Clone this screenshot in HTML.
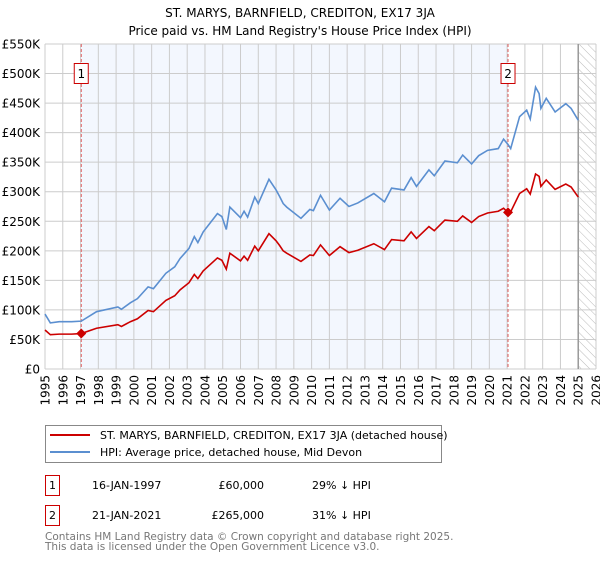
<!DOCTYPE html>
<html><head><meta charset="utf-8"><style>
body{margin:0;background:#fff;}
svg{font-family:"DejaVu Sans","Liberation Sans",sans-serif;}
</style></head><body>
<svg id="chart" width="600" height="560" viewBox="0 0 600 560" xmlns="http://www.w3.org/2000/svg">
<defs><pattern id="hatch" width="6" height="6" patternUnits="userSpaceOnUse" patternTransform="rotate(-45)"><line x1="0" y1="0" x2="0" y2="6" stroke="#bbb" stroke-width="1"/></pattern></defs>
<text x="300" y="17" text-anchor="middle" font-size="12">ST. MARYS, BARNFIELD, CREDITON, EX17 3JA</text>
<text x="300" y="35" text-anchor="middle" font-size="12">Price paid vs. HM Land Registry's House Price Index (HPI)</text>
<g id="plot"></g>
<g>
<rect x="45.5" y="425.5" width="396" height="37" fill="#fff" stroke="#888"/>
<line x1="50" y1="435" x2="90" y2="435" stroke="#cc0000" stroke-width="2"/>
<text x="100" y="439" font-size="11">ST. MARYS, BARNFIELD, CREDITON, EX17 3JA (detached house)</text>
<line x1="50" y1="452" x2="90" y2="452" stroke="#5b8fd0" stroke-width="2"/>
<text x="100" y="456" font-size="11">HPI: Average price, detached house, Mid Devon</text>
</g>
<g font-size="11">
<rect x="45.5" y="475.5" width="14" height="20" fill="#fff" stroke="#cc0000"/>
<text x="52.5" y="489" text-anchor="middle">1</text>
<text x="92" y="489">16-JAN-1997</text>
<text x="264" y="489" text-anchor="end">£60,000</text>
<text x="312" y="489">29% ↓ HPI</text>
<rect x="45.5" y="505.5" width="14" height="20" fill="#fff" stroke="#cc0000"/>
<text x="52.5" y="519" text-anchor="middle">2</text>
<text x="92" y="519">21-JAN-2021</text>
<text x="264" y="519" text-anchor="end">£265,000</text>
<text x="312" y="519">31% ↓ HPI</text>
</g>
<text x="45" y="170" font-size="10.5" fill="#777" transform="translate(0,370)">Contains HM Land Registry data © Crown copyright and database right 2025.</text>
<text x="45" y="180" font-size="10.5" fill="#777" transform="translate(0,370)">This data is licensed under the Open Government Licence v3.0.</text>
</svg>
<script>
const hpiYears=[1995.0,1995.3,1995.8,1996.5,1997.04,1997.9,1999.1,1999.3,1999.8,2000.2,2000.8,2001.1,2001.8,2002.3,2002.6,2003.1,2003.4,2003.6,2003.9,2004.7,2004.95,2005.2,2005.4,2006.0,2006.2,2006.4,2006.8,2007.0,2007.6,2008.0,2008.2,2008.4,2008.6,2009.4,2009.9,2010.1,2010.5,2011.0,2011.6,2012.1,2012.6,2013.5,2014.1,2014.5,2015.2,2015.6,2015.9,2016.6,2016.9,2017.5,2018.2,2018.5,2019.0,2019.4,2019.9,2020.5,2020.8,2021.05,2021.2,2021.7,2022.1,2022.3,2022.6,2022.8,2022.9,2023.2,2023.7,2024.3,2024.6,2025.0];
const hpiValues=[93,78,80,80,81,97,105,101,112,119,139,136,162,173,187,204,224,214,232,263,258,236,274,256,267,257,291,280,321,303,292,280,274,255,270,268,294,269,289,275,281,297,283,306,303,324,309,337,327,352,349,362,347,361,370,373,389,380,373,427,438,423,477,466,441,458,435,449,441,421];
const priceValues=[66,58,59,59,60,69,75,72,80,85,99,97,116,124,134,146,160,153,166,188,184,169,196,183,191,184,208,200,229,217,209,200,196,182,193,192,210,192,207,197,201,212,202,219,217,232,221,241,234,252,250,259,248,258,264,267,272,265,266,297,305,296,330,326,309,320,304,313,308,291];
const saleYears=[1997.04,2021.05];
const saleValues=[60,265];
const saleLabels=["1","2"];
const yTicks=[0,50,100,150,200,250,300,350,400,450,500,550];
const yTickLabels=["£0","£50K","£100K","£150K","£200K","£250K","£300K","£350K","£400K","£450K","£500K","£550K"];
const xYears=[1995,1996,1997,1998,1999,2000,2001,2002,2003,2004,2005,2006,2007,2008,2009,2010,2011,2012,2013,2014,2015,2016,2017,2018,2019,2020,2021,2022,2023,2024,2025,2026];

const NS="http://www.w3.org/2000/svg";
const X0=45,X1=596,Y0=369,Y1=44;
const xs=y=>X0+(y-1995)/(2026-1995)*(X1-X0);
const ys=v=>Y0-v/550*(Y0-Y1);
const g=document.getElementById('plot');
function mk(t,a){const e=document.createElementNS(NS,t);for(const k in a)e.setAttribute(k,a[k]);g.appendChild(e);return e;}

let r=mk('rect',{x:xs(saleYears[0]),y:Y1,width:xs(saleYears[1])-xs(saleYears[0]),height:Y0-Y1,fill:'#f3f7fe'});


let h=mk('rect',{x:xs(2025),y:Y1,width:X1-xs(2025),height:Y0-Y1,fill:'url(#hatch)'});



xYears.forEach(yr=>{
 const l=mk('line',{x1:xs(yr),x2:xs(yr),y1:Y1,y2:Y0,stroke:'#ccc','stroke-width':1});
 
 
 const t=mk('text',{x:0,y:0,'font-size':12,'text-anchor':'end',transform:`translate(${xs(yr)+4.5},${Y0+6}) rotate(-90)`});
 t.textContent=yr;
 
 
});
yTicks.forEach((v,i)=>{
 const l=mk('line',{x1:X0,x2:X1,y1:ys(v),y2:ys(v),stroke:'#ccc','stroke-width':1});
 
 
 const t=mk('text',{x:40,y:ys(v)+4.5,'font-size':12,'text-anchor':'end'});
 t.textContent=yTickLabels[i];
 
 
});
let e=mk('line',{x1:xs(2025),x2:xs(2025),y1:Y1,y2:Y0,stroke:'#999','stroke-width':1.5});



saleYears.forEach((yr,i)=>{
 const d=mk('line',{x1:xs(yr),x2:xs(yr),y1:Y1,y2:Y0,stroke:'#e06060','stroke-width':1,'stroke-dasharray':'3,2'});
 
 
});

const hp=mk('polyline',{points:hpiYears.map((y,i)=>xs(y)+','+ys(hpiValues[i])).join(' '),fill:'none',stroke:'#5b8fd0','stroke-width':1.6});


const pp=mk('polyline',{points:hpiYears.map((y,i)=>xs(y)+','+ys(priceValues[i])).join(' '),fill:'none',stroke:'#cc0000','stroke-width':1.6});



saleYears.forEach((yr,i)=>{
 const cx=xs(yr),cy=ys(saleValues[i]);
 const p=mk('polygon',{points:`${cx},${cy-5} ${cx+5},${cy} ${cx},${cy+5} ${cx-5},${cy}`,fill:'#cc0000'});
 
 
 const b=mk('rect',{x:cx-7,y:63.5,width:14,height:20,fill:'#fff',stroke:'#cc0000'});
 
 
 const t=mk('text',{x:cx,y:78,'font-size':12,'text-anchor':'middle'});
 t.textContent=saleLabels[i];
 
 
});
</script>
</body></html>
